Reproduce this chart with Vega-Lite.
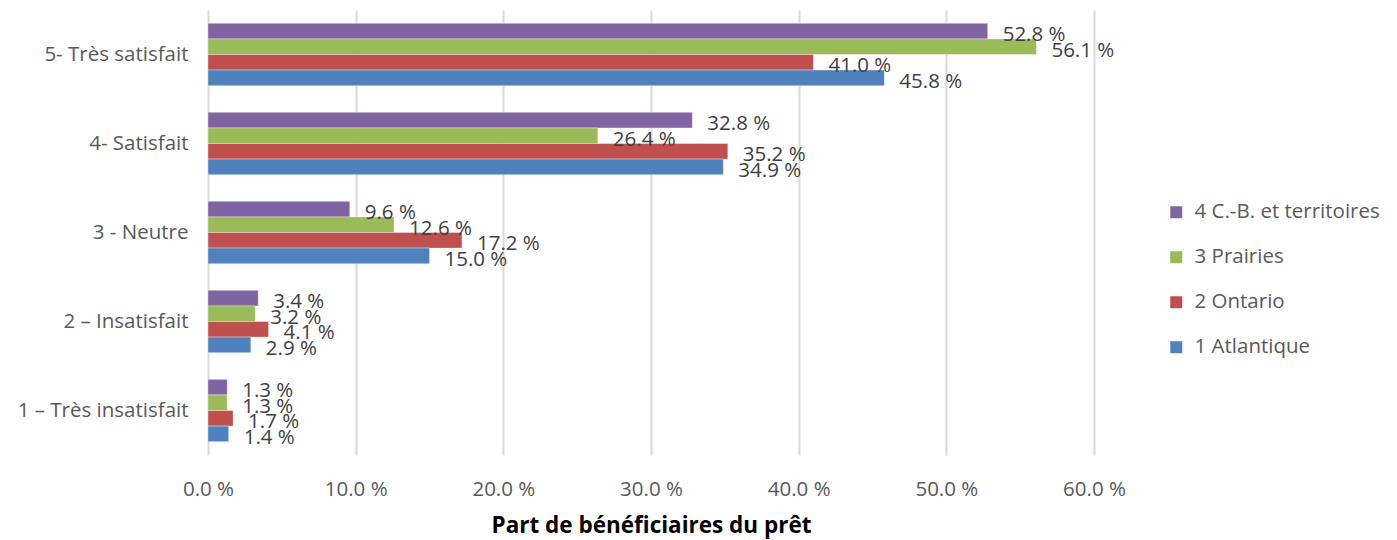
{
  "$schema": "https://vega.github.io/schema/vega-lite/v6.json",
  "autosize": {"type": "none"},
  "padding": {"left": 208, "top": 10, "right": 303, "bottom": 85},
  "width": 886,
  "height": 445,
  "background": "white",
  "config": {
    "font": "Open Sans",
    "view": {"stroke": null}
  },
  "data": {
    "values": [
      {"cat": "5- Très satisfait", "region": "4 C.-B. et territoires", "v": 52.8},
      {"cat": "5- Très satisfait", "region": "3 Prairies", "v": 56.1},
      {"cat": "5- Très satisfait", "region": "2 Ontario", "v": 41.0},
      {"cat": "5- Très satisfait", "region": "1 Atlantique", "v": 45.8},
      {"cat": "4- Satisfait", "region": "4 C.-B. et territoires", "v": 32.8},
      {"cat": "4- Satisfait", "region": "3 Prairies", "v": 26.4},
      {"cat": "4- Satisfait", "region": "2 Ontario", "v": 35.2},
      {"cat": "4- Satisfait", "region": "1 Atlantique", "v": 34.9},
      {"cat": "3 - Neutre", "region": "4 C.-B. et territoires", "v": 9.6},
      {"cat": "3 - Neutre", "region": "3 Prairies", "v": 12.6},
      {"cat": "3 - Neutre", "region": "2 Ontario", "v": 17.2},
      {"cat": "3 - Neutre", "region": "1 Atlantique", "v": 15.0},
      {"cat": "2 – Insatisfait", "region": "4 C.-B. et territoires", "v": 3.4},
      {"cat": "2 – Insatisfait", "region": "3 Prairies", "v": 3.2},
      {"cat": "2 – Insatisfait", "region": "2 Ontario", "v": 4.1},
      {"cat": "2 – Insatisfait", "region": "1 Atlantique", "v": 2.9},
      {"cat": "1 – Très insatisfait", "region": "4 C.-B. et territoires", "v": 1.3},
      {"cat": "1 – Très insatisfait", "region": "3 Prairies", "v": 1.3},
      {"cat": "1 – Très insatisfait", "region": "2 Ontario", "v": 1.7},
      {"cat": "1 – Très insatisfait", "region": "1 Atlantique", "v": 1.4}
    ]
  },
  "transform": [
    {"calculate": "format(datum.v, '.1f') + ' %'", "as": "label"}
  ],
  "encoding": {
    "y": {
      "field": "cat",
      "type": "nominal",
      "sort": ["5- Très satisfait", "4- Satisfait", "3 - Neutre", "2 – Insatisfait", "1 – Très insatisfait"],
      "scale": {"paddingInner": 0.3, "paddingOuter": 0.15},
      "axis": {
        "title": null,
        "domain": false,
        "ticks": false,
        "labelFontSize": 20.5,
        "labelColor": "#595959",
        "labelPadding": 20,
        "labelLimit": 0
      }
    },
    "yOffset": {
      "field": "region",
      "type": "nominal",
      "sort": ["4 C.-B. et territoires", "3 Prairies", "2 Ontario", "1 Atlantique"],
      "scale": {"paddingInner": 0, "paddingOuter": 0}
    },
    "x": {
      "field": "v",
      "type": "quantitative",
      "scale": {"domain": [0, 60], "nice": false},
      "axis": {
        "values": [0, 10, 20, 30, 40, 50, 60],
        "labelExpr": "format(datum.value, '.1f') + ' %'",
        "labelFlush": false,
        "title": "Part de bénéficiaires du prêt",
        "titleFontSize": 22.5,
        "titleFontWeight": "bold",
        "titleColor": "#000000",
        "titlePadding": 15,
        "labelFontSize": 20.5,
        "labelColor": "#595959",
        "labelPadding": 24,
        "domain": false,
        "ticks": false,
        "grid": true,
        "gridColor": "#d9d9d9",
        "gridWidth": 2
      }
    }
  },
  "layer": [
    {
      "mark": {"type": "bar", "stroke": "white", "strokeWidth": 0.6, "strokeOpacity": 0.6},
      "encoding": {
        "color": {
          "field": "region",
          "type": "nominal",
          "sort": ["4 C.-B. et territoires", "3 Prairies", "2 Ontario", "1 Atlantique"],
          "scale": {
            "domain": ["4 C.-B. et territoires", "3 Prairies", "2 Ontario", "1 Atlantique"],
            "range": ["#8064A2", "#9BBB59", "#C0504D", "#4F81BD"]
          },
          "legend": {
            "title": null,
            "orient": "none",
            "legendX": 958,
            "legendY": 192,
            "symbolType": "square",
            "symbolSize": 144,
            "symbolStrokeWidth": 0,
            "symbolOpacity": 1,
            "labelFontSize": 20.5,
            "labelColor": "#595959",
            "labelOffset": 8,
            "labelLimit": 0,
            "rowPadding": 24,
            "padding": 0
          }
        }
      }
    },
    {
      "mark": {"type": "text", "align": "left", "baseline": "middle", "dx": 15, "dy": 4, "fontSize": 20.5, "color": "#404040"},
      "encoding": {
        "text": {"field": "label", "type": "nominal"}
      }
    }
  ]
}
